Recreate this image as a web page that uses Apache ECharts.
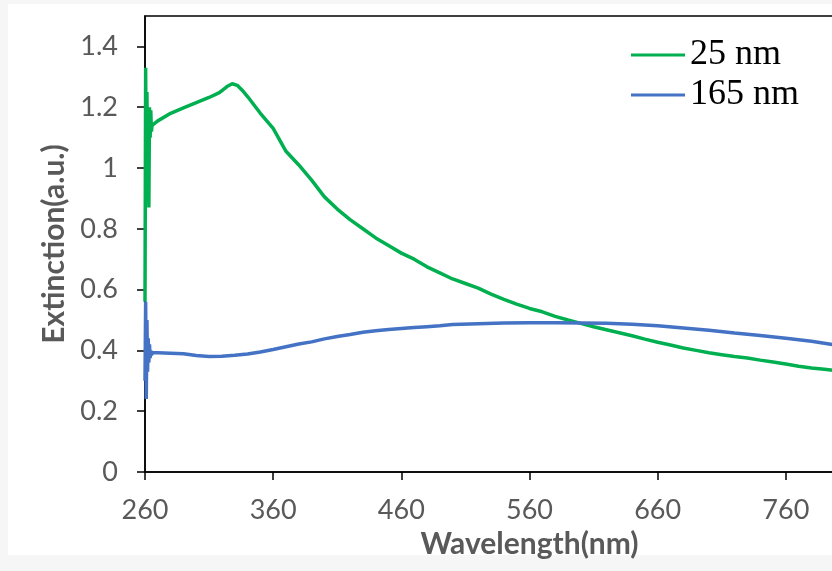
<!DOCTYPE html>
<html>
<head>
<meta charset="utf-8">
<script src="https://cdn.jsdelivr.net/npm/echarts@6/dist/echarts.min.js"></script>
<style>
html,body{margin:0;padding:0;background:#f6f6f6;overflow:hidden;width:832px;height:571px;}
#chart{width:914px;height:571px;}
</style>
</head>
<body>
<div id="chart"></div>
<script>
// ---- Data ----
var seriesNames = ['25 nm', '165 nm'];

var greenWavelength = [260, 260.5, 261, 261.5, 262, 262.5, 263, 263.5, 264, 264.5, 265, 265.5, 266,
  270, 280, 290, 300, 310, 318, 324, 328, 332, 336, 340, 350, 360, 370, 380, 390, 400,
  410, 420, 430, 440, 450, 460, 470, 480, 490, 500, 510, 520, 530, 540, 550, 560, 570,
  580, 590, 600, 610, 620, 630, 640, 650, 660, 670, 680, 690, 700, 710, 720, 730, 740,
  750, 760, 770, 780, 790, 800, 810];
var greenExtinction = [0.56, 1.33, 0.90, 1.25, 0.95, 1.15, 0.87, 1.20, 1.10, 1.19, 1.12, 1.14, 1.145,
  1.155, 1.18, 1.198, 1.215, 1.232, 1.248, 1.268, 1.277, 1.272, 1.255, 1.235, 1.18, 1.13, 1.055, 1.01, 0.96, 0.905,
  0.865, 0.83, 0.80, 0.77, 0.745, 0.72, 0.70, 0.675, 0.655, 0.635, 0.62, 0.605, 0.585, 0.568, 0.552, 0.538, 0.527,
  0.512, 0.50, 0.489, 0.478, 0.468, 0.458, 0.448, 0.437, 0.427, 0.418, 0.408, 0.40, 0.392, 0.386, 0.38, 0.375, 0.368,
  0.362, 0.355, 0.348, 0.342, 0.338, 0.333, 0.328];

var blueWavelength = [260, 260.5, 261, 261.5, 262, 262.5, 263, 263.5, 264, 264.5, 265, 266,
  270, 280, 290, 300, 310, 320, 330, 340, 350, 360, 370, 380, 390, 400, 410, 420, 430,
  440, 450, 460, 470, 480, 490, 500, 520, 540, 560, 580, 600, 620, 640, 660, 680, 700,
  720, 740, 760, 780, 800, 810];
var blueExtinction = [0.30, 0.56, 0.24, 0.50, 0.33, 0.44, 0.36, 0.42, 0.375, 0.40, 0.385, 0.392,
  0.392, 0.391, 0.389, 0.383, 0.38, 0.381, 0.384, 0.388, 0.395, 0.403, 0.412, 0.421, 0.428, 0.438, 0.446, 0.452, 0.46,
  0.465, 0.469, 0.472, 0.475, 0.478, 0.481, 0.485, 0.488, 0.490, 0.491, 0.491, 0.490, 0.489, 0.486, 0.481, 0.474, 0.466,
  0.457, 0.449, 0.44, 0.43, 0.417, 0.411];

var xTicks = [260, 360, 460, 560, 660, 760, 860];
var yTicks = [0, 0.2, 0.4, 0.6, 0.8, 1, 1.2, 1.4];

function pairs(xs, ys) { return xs.map(function (x, i) { return [x, ys[i]]; }); }

var chart = echarts.init(document.getElementById('chart'), null, {renderer: 'canvas'});
var grey = '#595959';
chart.setOption({
  animation: false,
  backgroundColor: 'transparent',
  graphic: [{
    type: 'rect', z: -10, silent: true,
    shape: {x: 8, y: 4, width: 910, height: 551},
    style: {fill: '#ffffff'}
  }],
  grid: {
    left: 145, top: 16, right: 0, bottom: 99,
    outerBoundsMode: 'none', containLabel: false,
    show: true, borderColor: '#000', borderWidth: 1.5, backgroundColor: 'transparent'
  },
  legend: {
    orient: 'vertical', left: 626, top: 30, itemGap: 0,
    itemWidth: 54, itemHeight: 3, icon: 'rect',
    data: seriesNames,
    textStyle: {fontFamily: '"Liberation Serif", "Times New Roman", serif', fontSize: 36, color: '#000', lineHeight: 40}
  },
  xAxis: {
    type: 'value', min: 260, max: 860,
    name: 'Wavelength(nm)', nameLocation: 'middle', nameGap: 53,
    nameTextStyle: {fontFamily: 'Lato', fontSize: 30, fontWeight: 'bold', color: grey},
    axisLine: {show: true, onZero: false, lineStyle: {color: '#000', width: 1.5}},
    axisTick: {show: true, inside: false, length: 8, lineStyle: {color: '#000', width: 1.5}, customValues: xTicks},
    axisLabel: {margin: 25, fontFamily: 'Lato', fontSize: 27, color: grey, customValues: xTicks},
    splitLine: {show: false}
  },
  yAxis: {
    type: 'value', min: 0, max: 1.5,
    name: 'Extinction(a.u.)', nameLocation: 'middle', nameGap: 75,
    nameTextStyle: {fontFamily: 'Lato', fontSize: 30, fontWeight: 'bold', color: grey},
    axisLine: {show: true, lineStyle: {color: '#000', width: 1.5}},
    axisTick: {show: true, inside: false, length: 8, lineStyle: {color: '#000', width: 1.5}, customValues: yTicks},
    axisLabel: {margin: 27, fontFamily: 'Lato', fontSize: 27, color: grey, customValues: yTicks},
    splitLine: {show: false}
  },
  series: [{
    name: seriesNames[0], type: 'line', showSymbol: false, symbol: 'none',
    lineStyle: {color: '#00B050', width: 3.5}, itemStyle: {color: '#00B050'},
    data: pairs(greenWavelength, greenExtinction), z: 3
  }, {
    name: seriesNames[1], type: 'line', showSymbol: false, symbol: 'none',
    lineStyle: {color: '#4472C4', width: 3.5}, itemStyle: {color: '#4472C4'},
    data: pairs(blueWavelength, blueExtinction), z: 4
  }]
});
</script>
</body>
</html>
